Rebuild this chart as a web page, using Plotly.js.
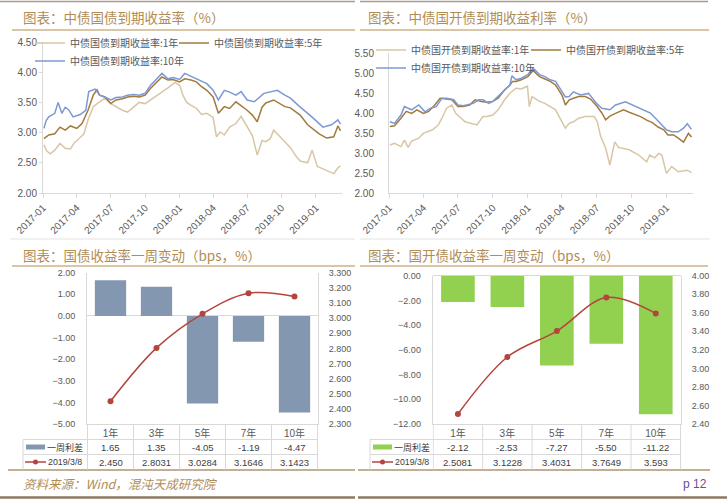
<!DOCTYPE html>
<html><head><meta charset="utf-8">
<script src="https://cdn.plot.ly/plotly-3.0.1.min.js"></script>
<style>html,body{margin:0;padding:0;background:#fff;}#chart{width:727px;height:500px;}</style>
</head><body><div id="chart"></div>
<script>
// ---------- 中债国债到期收益率 ----------
const gz1Dates=['2017-01-03','2017-01-10','2017-01-20','2017-02-01','2017-02-15','2017-03-01','2017-03-15','2017-03-25','2017-04-10','2017-04-20','2017-05-01','2017-05-15','2017-06-01','2017-06-15','2017-07-01','2017-07-15','2017-08-01','2017-08-15','2017-09-01','2017-09-15','2017-10-01','2017-10-15','2017-11-01','2017-11-15','2017-12-01','2017-12-20','2018-01-02','2018-01-10','2018-01-20','2018-02-01','2018-02-15','2018-03-01','2018-03-15','2018-04-01','2018-04-10','2018-04-20','2018-05-01','2018-05-15','2018-06-01','2018-06-15','2018-07-01','2018-07-15','2018-07-28','2018-08-10','2018-08-20','2018-09-01','2018-09-10','2018-09-25','2018-10-10','2018-10-25','2018-11-10','2018-11-20','2018-12-10','2018-12-22','2019-01-05','2019-01-20','2019-02-01','2019-02-18','2019-02-28','2019-03-08'];
const gz1Vals=[2.80,2.70,2.65,2.71,2.82,2.74,2.73,2.83,2.92,2.98,3.21,3.43,3.51,3.57,3.48,3.43,3.37,3.34,3.43,3.50,3.48,3.54,3.60,3.66,3.74,3.83,3.78,3.62,3.50,3.45,3.40,3.30,3.32,3.25,2.93,3.01,2.96,3.09,3.15,3.27,3.10,2.95,2.63,2.87,2.85,2.90,3.04,2.95,2.85,2.75,2.60,2.53,2.50,2.71,2.44,2.40,2.37,2.32,2.41,2.45];
const gz5Dates=['2017-01-03','2017-01-16','2017-02-01','2017-02-15','2017-03-01','2017-03-15','2017-04-01','2017-04-15','2017-05-01','2017-05-15','2017-05-25','2017-06-01','2017-06-15','2017-07-01','2017-07-15','2017-08-01','2017-08-15','2017-09-01','2017-09-15','2017-10-01','2017-10-15','2017-11-01','2017-11-15','2017-12-01','2017-12-15','2018-01-01','2018-01-15','2018-02-01','2018-02-15','2018-03-01','2018-03-15','2018-04-01','2018-04-15','2018-05-01','2018-05-15','2018-06-01','2018-06-15','2018-07-01','2018-07-15','2018-07-28','2018-08-10','2018-08-20','2018-09-10','2018-09-25','2018-10-10','2018-10-25','2018-11-10','2018-11-20','2018-12-10','2018-12-25','2019-01-10','2019-01-30','2019-02-18','2019-03-01','2019-03-08'];
const gz5Vals=[2.90,2.96,2.98,3.09,3.04,3.11,3.07,3.15,3.37,3.62,3.71,3.62,3.59,3.48,3.54,3.56,3.59,3.60,3.59,3.62,3.73,3.84,3.92,3.87,3.88,3.84,3.89,3.87,3.84,3.76,3.70,3.59,3.32,3.43,3.40,3.51,3.45,3.37,3.29,3.18,3.42,3.49,3.54,3.48,3.43,3.41,3.33,3.29,3.13,3.05,2.98,2.91,2.93,3.11,3.03];
const gz10Dates=['2017-01-03','2017-01-09','2017-01-16','2017-02-01','2017-02-10','2017-02-20','2017-03-01','2017-03-10','2017-03-22','2017-04-10','2017-04-25','2017-05-03','2017-05-20','2017-06-01','2017-06-15','2017-07-01','2017-07-15','2017-08-01','2017-08-15','2017-09-01','2017-09-15','2017-10-01','2017-10-15','2017-11-01','2017-11-15','2017-12-01','2017-12-15','2018-01-01','2018-01-15','2018-02-01','2018-02-15','2018-03-01','2018-03-15','2018-04-01','2018-04-15','2018-05-01','2018-05-15','2018-06-01','2018-06-15','2018-07-01','2018-07-20','2018-08-15','2018-09-20','2018-10-10','2018-10-25','2018-11-15','2018-12-01','2018-12-25','2019-01-20','2019-02-12','2019-03-01','2019-03-08'];
const gz10Vals=[3.07,3.20,3.26,3.32,3.50,3.32,3.42,3.38,3.26,3.30,3.37,3.68,3.72,3.62,3.59,3.54,3.58,3.59,3.62,3.63,3.62,3.65,3.78,3.89,3.98,3.89,3.91,3.88,3.98,3.93,3.89,3.84,3.81,3.70,3.54,3.70,3.67,3.62,3.68,3.54,3.51,3.65,3.70,3.62,3.57,3.45,3.37,3.24,3.09,3.13,3.21,3.14];
// ---------- 中债国开债到期收益率 ----------
const gk1Dates=['2017-01-03','2017-01-15','2017-02-01','2017-02-10','2017-02-20','2017-03-01','2017-03-20','2017-04-01','2017-04-25','2017-05-10','2017-05-20','2017-06-01','2017-06-15','2017-06-25','2017-07-20','2017-08-20','2017-09-05','2017-09-15','2017-10-01','2017-10-15','2017-11-01','2017-11-15','2017-12-01','2017-12-15','2017-12-31','2018-01-05','2018-01-12','2018-02-01','2018-02-15','2018-03-01','2018-03-15','2018-04-01','2018-04-10','2018-04-20','2018-05-01','2018-05-15','2018-06-01','2018-06-25','2018-07-03','2018-07-12','2018-07-25','2018-08-05','2018-08-18','2018-08-28','2018-09-25','2018-10-20','2018-11-10','2018-11-18','2018-12-01','2018-12-12','2018-12-20','2019-01-01','2019-01-15','2019-02-01','2019-02-15','2019-02-25','2019-03-08'];
const gk1Vals=[3.20,3.24,3.16,3.32,3.14,3.30,3.37,3.49,3.58,3.70,3.87,4.12,4.20,3.99,3.78,3.70,3.91,3.91,3.95,4.08,4.33,4.50,4.62,4.60,4.67,4.16,4.41,4.29,4.24,4.16,4.08,3.78,3.62,3.74,3.78,3.87,3.91,3.91,3.78,3.41,3.12,2.70,3.28,3.14,3.08,2.95,2.78,2.95,2.88,2.99,2.95,2.49,2.66,2.53,2.55,2.57,2.51];
const gk5Dates=['2017-01-03','2017-01-15','2017-02-01','2017-02-15','2017-03-01','2017-03-15','2017-04-01','2017-04-15','2017-05-01','2017-05-15','2017-06-01','2017-06-15','2017-07-01','2017-07-15','2017-08-01','2017-08-15','2017-09-01','2017-09-15','2017-10-01','2017-10-15','2017-11-01','2017-11-15','2017-11-22','2017-12-01','2017-12-15','2018-01-01','2018-01-15','2018-02-01','2018-02-15','2018-03-01','2018-03-15','2018-04-01','2018-04-10','2018-04-20','2018-05-01','2018-05-15','2018-06-01','2018-06-15','2018-07-01','2018-07-15','2018-07-25','2018-08-05','2018-08-20','2018-09-10','2018-09-25','2018-10-10','2018-10-25','2018-11-10','2018-11-25','2018-12-10','2018-12-25','2019-01-05','2019-01-20','2019-02-01','2019-02-15','2019-02-28','2019-03-08'];
const gk5Vals=[3.66,3.68,3.87,4.04,3.99,4.08,3.99,4.04,4.20,4.37,4.35,4.33,4.16,4.16,4.20,4.33,4.29,4.27,4.29,4.37,4.58,4.70,4.79,4.79,4.83,4.91,5.06,4.91,4.85,4.79,4.70,4.45,4.20,4.33,4.37,4.41,4.41,4.35,4.18,4.00,3.83,3.92,3.99,4.08,4.02,3.97,3.91,3.82,3.76,3.65,3.58,3.45,3.45,3.37,3.27,3.49,3.40];
const gk10Dates=['2017-01-03','2017-01-15','2017-02-01','2017-02-10','2017-03-01','2017-03-20','2017-04-05','2017-04-20','2017-05-05','2017-05-20','2017-06-01','2017-06-20','2017-07-01','2017-07-15','2017-08-10','2017-08-25','2017-09-05','2017-09-20','2017-10-01','2017-10-15','2017-11-01','2017-11-15','2017-11-20','2017-12-01','2017-12-15','2018-01-01','2018-01-15','2018-02-01','2018-02-15','2018-03-01','2018-03-15','2018-04-01','2018-04-10','2018-04-20','2018-05-01','2018-05-20','2018-06-10','2018-07-01','2018-07-15','2018-08-05','2018-08-20','2018-09-15','2018-10-05','2018-10-25','2018-11-20','2018-12-12','2019-01-01','2019-01-15','2019-02-01','2019-02-15','2019-02-25','2019-03-08'];
const gk10Vals=[3.78,3.74,3.95,4.16,4.08,4.20,4.03,4.12,4.16,4.37,4.37,4.33,4.20,4.18,4.24,4.33,4.33,4.24,4.29,4.41,4.58,4.70,4.93,4.83,4.87,4.96,5.12,4.96,4.91,4.83,4.79,4.54,4.40,4.41,4.53,4.45,4.49,4.24,4.12,4.08,4.20,4.28,4.20,4.12,4.00,3.78,3.58,3.53,3.53,3.62,3.73,3.59];
// ---------- 一周变动 ----------
const tenors=['1年','3年','5年','7年','10年'];
const gzChg=[1.65,1.35,-4.05,-1.19,-4.47];
const gzLevel=[2.450,2.8031,3.0284,3.1646,3.1423];
const gzLevelText=['2.450','2.8031','3.0284','3.1646','3.1423'];
const gkChg=[-2.12,-2.53,-7.27,-5.50,-11.22];
const gkLevel=[2.5081,3.1228,3.4031,3.7649,3.593];
const gkLevelText=['2.5081','3.1228','3.4031','3.7649','3.593'];
const chgName='一周利差', levelName='2019/3/8';

const W=727,H=500;
const px=x=>x/W, py=y=>1-y/H;
const NUM='Liberation Sans, Noto Sans CJK SC, sans-serif';
const CJK='Noto Sans CJK SC, sans-serif';
const GREY='#595959', GOLD='#B08D57', AX='#D9D9D9', RED='#B5443F';
const C1='#D8C6A6', C5='#A07A3E', C10='#7D98D2', BLUEBAR='#8497B0', GREEN='#92D050';

const traces=[
 {type:'scatter',mode:'lines',x:gz1Dates,y:gz1Vals,name:'中债国债到期收益率:1年',line:{color:C1,width:1.5},xaxis:'x',yaxis:'y',legend:'legend'},
 {type:'scatter',mode:'lines',x:gz5Dates,y:gz5Vals,name:'中债国债到期收益率:5年',line:{color:C5,width:1.5},xaxis:'x',yaxis:'y',legend:'legend2'},
 {type:'scatter',mode:'lines',x:gz10Dates,y:gz10Vals,name:'中债国债到期收益率:10年',line:{color:C10,width:1.5},xaxis:'x',yaxis:'y',legend:'legend3'},
 {type:'scatter',mode:'lines',x:gk1Dates,y:gk1Vals,name:'中债国开债到期收益率:1年',line:{color:C1,width:1.5},xaxis:'x2',yaxis:'y2',legend:'legend4'},
 {type:'scatter',mode:'lines',x:gk5Dates,y:gk5Vals,name:'中债国开债到期收益率:5年',line:{color:C5,width:1.5},xaxis:'x2',yaxis:'y2',legend:'legend5'},
 {type:'scatter',mode:'lines',x:gk10Dates,y:gk10Vals,name:'中债国开债到期收益率:10年',line:{color:C10,width:1.5},xaxis:'x2',yaxis:'y2',legend:'legend6'},
 {type:'bar',x:tenors,y:gzChg,name:chgName,marker:{color:BLUEBAR},xaxis:'x3',yaxis:'y3',showlegend:false},
 {type:'scatter',mode:'lines+markers',x:tenors,y:gzLevel,name:levelName,line:{color:RED,width:1.5,shape:'spline'},marker:{color:RED,size:6},xaxis:'x3',yaxis:'y4',showlegend:false},
 {type:'bar',x:tenors,y:gkChg,name:chgName,marker:{color:GREEN},xaxis:'x4',yaxis:'y5',showlegend:false},
 {type:'scatter',mode:'lines+markers',x:tenors,y:gkLevel,name:levelName,line:{color:RED,width:1.5,shape:'spline'},marker:{color:RED,size:6},xaxis:'x4',yaxis:'y6',showlegend:false}
];

const numFont=(s)=>({family:NUM,size:s,color:GREY});
const dateAxis=(d0,d1,anchor)=>({domain:[px(d0),px(d1)],anchor:anchor,type:'date',range:['2016-12-31 12:00','2019-03-12'],tick0:'2017-01-01',dtick:'M3',tickformat:'%Y-%m',tickangle:-45,showline:true,linecolor:AX,linewidth:1,ticks:'outside',ticklen:4,tickcolor:AX,showgrid:false,zeroline:false,tickfont:numFont(10),fixedrange:true});
const catAxis=(d0,d1,anchor)=>({domain:[px(d0),px(d1)],anchor:anchor,type:'category',showline:true,linecolor:AX,ticks:'',showgrid:false,zeroline:false,tickfont:{family:NUM,size:10,color:GREY},fixedrange:true});
const T='rgba(0,0,0,0)';

const layout={
 width:W,height:H,margin:{l:0,r:0,t:0,b:0},paper_bgcolor:'#fff',plot_bgcolor:'rgba(0,0,0,0)',
 bargap:0.32,showlegend:true,
 xaxis:dateAxis(43,342,'y'),
 yaxis:{domain:[py(193),py(42)],anchor:'x',range:[2,4.5],dtick:0.5,tickformat:'.2f',showline:true,linecolor:AX,ticks:'outside',ticklen:3,tickcolor:AX,showgrid:false,zeroline:false,tickfont:numFont(10)},
 xaxis2:dateAxis(389,693,'y2'),
 yaxis2:{domain:[py(193),py(53)],anchor:'x2',range:[2,5.5],dtick:0.5,tickformat:'.2f',showline:true,linecolor:AX,ticks:'outside',ticklen:12,tickcolor:T,showgrid:false,zeroline:false,tickfont:numFont(10)},
 xaxis3:catAxis(87,318,'y3'),
 yaxis3:{domain:[py(424),py(272.7)],anchor:'x3',range:[-5,2],dtick:1,tickformat:'.2f',showline:true,linecolor:AX,ticks:'outside',ticklen:9,tickcolor:T,showgrid:false,zeroline:true,zerolinecolor:AX,zerolinewidth:1,tickfont:numFont(9)},
 yaxis4:{overlaying:'y3',anchor:'x3',side:'right',range:[2.3,3.3],dtick:0.1,tickformat:'.3f',showline:true,linecolor:AX,ticks:'outside',ticklen:8,tickcolor:T,showgrid:false,zeroline:false,tickfont:numFont(9)},
 xaxis4:catAxis(432.7,681,'y5'),
 yaxis5:{domain:[py(424),py(275.7)],anchor:'x4',range:[-12,0],dtick:2,tickformat:'.2f',showline:true,linecolor:AX,ticks:'outside',ticklen:9,tickcolor:T,showgrid:false,zeroline:true,zerolinecolor:AX,zerolinewidth:1,tickfont:numFont(9)},
 yaxis6:{overlaying:'y5',anchor:'x4',side:'right',range:[2.4,4.0],dtick:0.2,tickformat:'.2f',showline:true,linecolor:AX,ticks:'outside',ticklen:8,tickcolor:T,showgrid:false,zeroline:false,tickfont:numFont(9)},
 shapes:[],annotations:[]
};
const legBase=(x,y)=>({x:px(x),y:py(y),xanchor:'left',yanchor:'middle',orientation:'v',bgcolor:T,borderwidth:0,font:{family:CJK,size:10,color:GREY},itemclick:false,itemdoubleclick:false});
layout.legend=legBase(30,43);
layout.legend2=legBase(174,43);
layout.legend3=legBase(30,61);
layout.legend4=legBase(371,50);
layout.legend5=legBase(526,50);
layout.legend6=legBase(371,68);

const S=layout.shapes, A=layout.annotations;
function L(x0,y0,x1,y1,color,w){S.push({type:'line',xref:'paper',yref:'paper',x0:px(x0),x1:px(x1),y0:py(y0),y1:py(y1),line:{color:color,width:w}});}
function txt(x,y,text,font,xanchor){A.push({xref:'paper',yref:'paper',x:px(x),y:py(y),text:text,showarrow:false,xanchor:xanchor||'left',yanchor:'middle',borderpad:0,font:font});}

// section frames
L(0,1.5,355,1.5,'#A89C8E',1.5); L(360,1.5,708,1.5,'#A89C8E',1.5);
L(12,30,355,30,'#CDB38A',1.5); L(360,30,709,30,'#CDB38A',1.5);
L(10,239,355,239,'#E3E3E3',1); L(360,239,710,239,'#E3E3E3',1);
L(12,266,355,266,'#CDB38A',1.5); L(360,266,708,266,'#CDB38A',1.5);
L(8,470,355,470,'#B09472',1.5); L(358,470,710,470,'#B09472',1.5);
L(0,497.5,355,497.5,'#8E7A62',2.5); L(358,497.5,727,497.5,'#8E7A62',2.5);

const titleFont={family:CJK,size:13.5,color:GOLD};
txt(22,17,'图表：中债国债到期收益率（%）',titleFont);
txt(367,17,'图表：中债国开债到期收益利率（%）',titleFont);
txt(22,255,'图表：国债收益率一周变动（bps，%）',titleFont);
txt(367,255,'图表：国开债收益率一周变动（bps，%）',titleFont);
txt(22,483,'资料来源：Wind，混沌天成研究院',{family:CJK,size:12.5,color:GOLD,style:'italic'});
txt(708,484,'p 12',{family:NUM,size:12,color:'#6B4C9A'},'right');

// data tables under weekly-change charts
function table(xa,left,plotR,barColor,chg,levelText){
  for(let i=0;i<=tenors.length;i++){
    S.push({type:'line',xref:xa,yref:'paper',x0:i-0.5,x1:i-0.5,y0:py(424),y1:py(469.5),line:{color:AX,width:1}});
  }
  L(left,439.5,plotR,439.5,AX,1); L(left,454.5,plotR,454.5,AX,1);
  L(left,439.5,left,469.5,AX,1);
  const tf={family:NUM,size:9.5,color:'#404040'};
  tenors.forEach((c,i)=>{
    A.push({xref:xa,yref:'paper',x:c,y:py(447),text:chg[i].toFixed(2),showarrow:false,yanchor:'middle',font:tf});
    A.push({xref:xa,yref:'paper',x:c,y:py(462),text:levelText[i],showarrow:false,yanchor:'middle',font:tf});
  });
  S.push({type:'rect',xref:'paper',yref:'paper',x0:px(left+3),x1:px(left+22),y0:py(449.5),y1:py(444.5),fillcolor:barColor,line:{width:0}});
  L(left+2,462,left+23,462,RED,1.5);
  S.push({type:'circle',xref:'paper',yref:'paper',x0:px(left+10),x1:px(left+15),y0:py(464.5),y1:py(459.5),fillcolor:RED,line:{color:RED,width:0}});
  txt(left+23,447,chgName,{family:CJK,size:9,color:'#404040'});
  txt(left+23.5,462,levelName,{family:NUM,size:8.8,color:'#404040'});
}
table('x3',23,318,BLUEBAR,gzChg,gzLevelText);
table('x4',370,681,GREEN,gkChg,gkLevelText);

Plotly.newPlot('chart',traces,layout,{staticPlot:true,displayModeBar:false});
</script></body></html>
